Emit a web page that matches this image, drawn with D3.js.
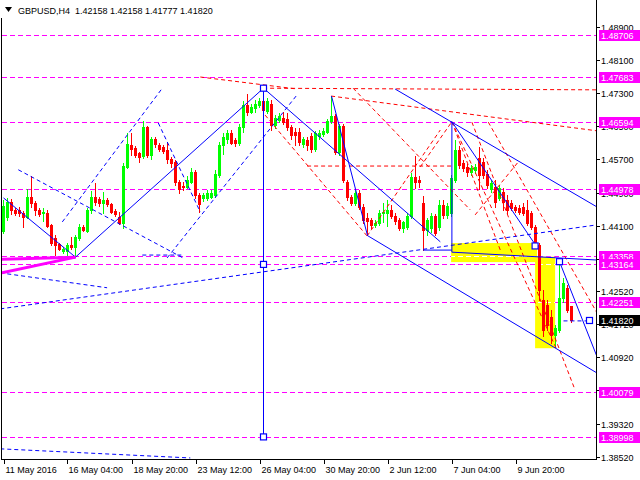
<!DOCTYPE html>
<html><head><meta charset="utf-8">
<script src="https://cdn.jsdelivr.net/npm/d3@7"></script>
<style>
body{margin:0;background:#fff}
svg{display:block}
text{font-family:"Liberation Sans",Arial,sans-serif;font-size:9px}
</style>
</head><body><svg id="c" width="640" height="480"></svg>
<script>
const title = "GBPUSD,H4  1.42158 1.42158 1.41777 1.41820";
const opens = [1.4397,1.4431,1.4467,1.4448,1.4448,1.4441,1.4431,1.4479,1.4465,1.4448,1.4441,1.4441,1.4411,1.4380,1.4366,1.4349,1.4349,1.4363,1.4359,1.4380,1.4407,1.4397,1.4448,1.4479,1.4474,1.4465,1.4472,1.4462,1.4445,1.4431,1.4416,1.4552,1.4605,1.4598,1.4586,1.4578,1.4648,1.4581,1.4619,1.4605,1.4600,1.4593,1.4571,1.4564,1.4515,1.4506,1.4503,1.4516,1.4540,1.4484,1.4477,1.4477,1.4479,1.4484,1.4532,1.4605,1.4619,1.4634,1.4617,1.4610,1.4648,1.4701,1.4684,1.4694,1.4701,1.4711,1.4687,1.4704,1.4653,1.4665,1.4670,1.4668,1.4648,1.4636,1.4636,1.4608,1.4617,1.4627,1.4595,1.4627,1.4631,1.4636,1.4663,1.4675,1.4588,1.4651,1.4516,1.4479,1.4465,1.4489,1.4455,1.4429,1.4424,1.4411,1.4416,1.4441,1.4441,1.4448,1.4433,1.4424,1.4404,1.4407,1.4433,1.4528,1.4520,1.4465,1.4400,1.4404,1.4433,1.4407,1.4460,1.4436,1.4441,1.4520,1.4593,1.4561,1.4552,1.4540,1.4545,1.4574,1.4564,1.4535,1.4499,1.4503,1.4477,1.4491,1.4472,1.4465,1.4455,1.4453,1.4455,1.4448,1.4441,1.4407,1.4363,1.4231,1.4219,1.4189,1.4146,1.4158,1.4235,1.4260,1.42158];
const highs = [1.4472,1.4477,1.4474,1.4453,1.4455,1.4445,1.4499,1.4530,1.4470,1.4453,1.4453,1.4448,1.4414,1.4388,1.4368,1.4359,1.4368,1.4383,1.4388,1.4414,1.4412,1.4453,1.4494,1.4513,1.4479,1.4491,1.4477,1.4465,1.4450,1.4443,1.4562,1.4634,1.4634,1.4602,1.4588,1.4663,1.4651,1.4624,1.4624,1.4610,1.4605,1.4612,1.4576,1.4569,1.4520,1.4516,1.4530,1.4549,1.4545,1.4489,1.4489,1.4496,1.4496,1.4545,1.4612,1.4634,1.4641,1.4641,1.4622,1.4655,1.4711,1.4728,1.4704,1.4714,1.4718,1.4742,1.4718,1.4714,1.4677,1.4682,1.4684,1.4682,1.4653,1.4646,1.4646,1.4624,1.4624,1.4634,1.4639,1.4641,1.4646,1.4668,1.4723,1.4680,1.4655,1.4655,1.4520,1.4484,1.4496,1.4496,1.4462,1.4441,1.4429,1.4424,1.4448,1.4465,1.4472,1.4460,1.4441,1.4429,1.4421,1.4441,1.4537,1.4578,1.4530,1.4482,1.4429,1.4441,1.4438,1.4472,1.4472,1.4465,1.4532,1.4617,1.4602,1.4569,1.4559,1.4557,1.4559,1.4600,1.4574,1.4545,1.4520,1.4520,1.4508,1.4501,1.4484,1.4472,1.4460,1.4460,1.4465,1.4472,1.4445,1.4411,1.4368,1.4255,1.4231,1.4206,1.4170,1.4327,1.4284,1.4267,1.42158];
const lows = [1.4392,1.4424,1.4438,1.4436,1.4434,1.4407,1.4429,1.4455,1.4436,1.4434,1.4421,1.4407,1.4363,1.4339,1.4351,1.4344,1.4339,1.4354,1.4334,1.4375,1.4397,1.4395,1.4441,1.4460,1.4458,1.4441,1.4458,1.4441,1.4434,1.4414,1.4404,1.4549,1.4581,1.4576,1.4563,1.4573,1.4576,1.4571,1.4600,1.4590,1.4586,1.4561,1.4552,1.4508,1.4489,1.4496,1.4501,1.4513,1.4477,1.4443,1.4470,1.4472,1.4477,1.4479,1.4528,1.4583,1.4610,1.4608,1.4603,1.4605,1.4636,1.4677,1.4682,1.4684,1.4697,1.4682,1.4682,1.4641,1.4646,1.4660,1.4655,1.4641,1.4619,1.4605,1.4605,1.4600,1.4593,1.4588,1.4590,1.4619,1.4627,1.4634,1.4658,1.4583,1.4581,1.4515,1.4472,1.4460,1.4460,1.4450,1.4416,1.4388,1.4404,1.4407,1.4411,1.4418,1.4409,1.4429,1.4414,1.4400,1.4395,1.4402,1.4429,1.4501,1.4503,1.4351,1.4388,1.4395,1.4388,1.4400,1.4429,1.4429,1.4434,1.4516,1.4549,1.4542,1.4530,1.4532,1.4537,1.4499,1.4525,1.4501,1.4491,1.4455,1.4472,1.4448,1.4441,1.4448,1.4443,1.4438,1.4436,1.4411,1.4402,1.4356,1.4231,1.4144,1.4158,1.4127,1.4117,1.4153,1.4226,1.4201,1.41777];
const closes = [1.4458,1.4467,1.4448,1.4441,1.4441,1.4431,1.4479,1.4465,1.4448,1.4438,1.4443,1.4409,1.4368,1.4363,1.4354,1.4354,1.4363,1.4359,1.4383,1.4407,1.4400,1.4448,1.4479,1.4467,1.4465,1.4472,1.4462,1.4443,1.4438,1.4416,1.4554,1.4608,1.4595,1.4581,1.4576,1.4648,1.4581,1.4619,1.4607,1.4595,1.4590,1.4571,1.4561,1.4515,1.4499,1.4503,1.4520,1.4540,1.4484,1.4462,1.4484,1.4489,1.4489,1.4535,1.4605,1.4624,1.4634,1.4610,1.4610,1.4648,1.4701,1.4684,1.4697,1.4704,1.4711,1.4689,1.4711,1.4653,1.4670,1.4675,1.4660,1.4648,1.4629,1.4629,1.4612,1.4619,1.4605,1.4595,1.4634,1.4634,1.4639,1.4663,1.4675,1.4588,1.4651,1.4520,1.4479,1.4465,1.4489,1.4455,1.4424,1.4421,1.4411,1.4416,1.4441,1.4443,1.4448,1.4433,1.4421,1.4404,1.4418,1.4433,1.4528,1.4516,1.4516,1.4400,1.4424,1.4433,1.4392,1.4460,1.4436,1.4458,1.4525,1.4593,1.4557,1.4549,1.4540,1.4549,1.4552,1.4532,1.4532,1.4508,1.4513,1.4467,1.4501,1.4467,1.4448,1.4453,1.4448,1.4443,1.4441,1.4416,1.4407,1.4368,1.4255,1.4158,1.4170,1.4146,1.4163,1.4235,1.4272,1.4206,1.41820];

const timeTickIdx = [0,16,32,48,64,80,96,112,128];
const timeTickLabels = ["11 May 2016","16 May 04:00","18 May 20:00","23 May 12:00","26 May 04:00","30 May 20:00","2 Jun 12:00","7 Jun 04:00","9 Jun 20:00"];
// price grid marks; labels fully hidden under level labels in the original are not printed
const priceTicks = [1.48900,1.48100,1.47300,1.46500,1.45700,1.44900,1.44100,1.43300,1.42520,1.41720,1.40920,1.40120,1.39320,1.38520];
const hiddenTickLabels = [1.43300,1.40120];
const levels = [1.48706,1.47683,1.46594,1.44978,1.43358,1.43164,1.42251,1.40079,1.38998];
const lastPrice = 1.41820;

// drawn objects: [barIndex1, price1, barIndex2, price2]
const blueSolid = [[0,1.4477,18,1.4334],[18,1.4334,65,1.4742],[65,1.4742,109.2,1.4371],[82,1.4723,91,1.4386],[91,1.4386,148.4,1.4054],[97.9,1.4740,148.4,1.4455],[112.1,1.4661,133.3,1.4359],[139,1.4323,148.4,1.4093],[104.9,1.4351,112.1,1.4351],[112.1,1.4346,148.4,1.4327],[65,1.4742,65,1.38998],[112.1,1.4661,112.1,1.4346]];
const blueDashed = [[-0.8,1.4296,25.9,1.4260],[-0.8,1.4209,148.4,1.4412],[-0.8,1.3871,46.7,1.3849],[3.7,1.4545,44.9,1.4332],[14.7,1.4419,39.7,1.4742],[38.7,1.4658,49.2,1.4443],[40.9,1.4332,73.4,1.4726],[34.7,1.4339,44.9,1.4339],[140,1.4180,146.5,1.4180]];
const redDashed = [[49.2,1.4769,73.4,1.4740],[64.9,1.4742,148.4,1.4738],[81.9,1.4723,148.4,1.4639],[65.4,1.4677,90.9,1.4385],[87.4,1.4742,116.7,1.4448],[90.9,1.4385,109.2,1.4641],[75.9,1.4554,112,1.4554],[112.1,1.4661,138.35,1.4110],[117.1,1.4660,142.9,1.4013],[104.2,1.4552,112.1,1.4661],[121.2,1.4660,148.4,1.4199],[117.9,1.4436,128.7,1.4564],[112.1,1.4661,124.2,1.4351]];
const magentaThick = [[-0.4,1.4329,18,1.4334],[-0.4,1.4296,18,1.4334]];
const yellowRects = [[111.9,1.4368,133.4,1.4322],[132.9,1.4335,137.9,1.4114]];
const anchorBoxes = [[65,1.4742],[65,1.43164],[65,1.38998],[132.9,1.4361],[139,1.4323],[146.5,1.4181]];

const svg = d3.select("#c");
const L = 2, R = 596, T = 0, B = 459;
const x = d3.scaleLinear().domain([-0.375, 148.125]).range([L, R]);
const y = d3.scaleLinear().domain([1.3852, 1.4955]).range([456.7, 0]);

svg.append("rect").attr("width",640).attr("height",480).attr("fill","#fff");
const defs = svg.append("defs");
defs.append("clipPath").attr("id","plot")
  .append("rect").attr("x",L).attr("y",T).attr("width",R-L).attr("height",B-T);
const yc = defs.append("clipPath").attr("id","yel");
yellowRects.forEach(d=>{
  yc.append("rect").attr("x",x(Math.min(d[0],d[2]))).attr("y",y(Math.max(d[1],d[3])))
    .attr("width",Math.abs(x(d[2])-x(d[0]))).attr("height",Math.abs(y(d[3])-y(d[1])));
});
const g = svg.append("g").attr("clip-path","url(#plot)");

// yellow rectangles (background)
g.selectAll(".yr").data(yellowRects).join("rect")
  .attr("x",d=>x(Math.min(d[0],d[2]))).attr("y",d=>y(Math.max(d[1],d[3])))
  .attr("width",d=>Math.abs(x(d[2])-x(d[0]))).attr("height",d=>Math.abs(y(d[3])-y(d[1])))
  .attr("fill","#ffff00");

// magenta levels
g.selectAll(".lv").data(levels).join("line")
  .attr("x1",L).attr("x2",R).attr("y1",d=>Math.round(y(d))+0.5).attr("y2",d=>Math.round(y(d))+0.5)
  .attr("stroke","#ff00ff").attr("stroke-width",1).attr("stroke-dasharray","5,3");
// levels appear light over the yellow background
g.append("g").attr("clip-path","url(#yel)").selectAll("line").data(levels).join("line")
  .attr("x1",L).attr("x2",R).attr("y1",d=>Math.round(y(d))+0.5).attr("y2",d=>Math.round(y(d))+0.5)
  .attr("stroke","#ffffff").attr("stroke-width",1).attr("stroke-dasharray","5,3");

// candles
const bars = d3.range(opens.length);
const cg = g.append("g");
cg.selectAll(".wick").data(bars).join("line")
  .attr("x1",i=>x(i)).attr("x2",i=>x(i))
  .attr("y1",i=>Math.round(y(highs[i]))).attr("y2",i=>Math.round(y(lows[i]))+1)
  .attr("stroke",i=>closes[i]>=opens[i]?"#00ff00":"#ff0000").attr("stroke-width",1);
cg.selectAll(".body").data(bars).join("rect")
  .attr("x",i=>x(i)-1.5).attr("width",3)
  .attr("y",i=>Math.round(y(Math.max(opens[i],closes[i]))))
  .attr("height",i=>Math.max(1,Math.round(y(Math.min(opens[i],closes[i])))-Math.round(y(Math.max(opens[i],closes[i])))+1))
  .attr("fill",i=>closes[i]>=opens[i]?"#00ff00":"#ff0000");

function seg(sel, data, color, width, dash){
  sel.selectAll(null).data(data).join("line")
    .attr("x1",d=>x(d[0])).attr("y1",d=>y(d[1])).attr("x2",d=>x(d[2])).attr("y2",d=>y(d[3]))
    .attr("stroke",color).attr("stroke-width",width).attr("stroke-dasharray",dash||null);
}
seg(g, redDashed, "#ff0000", 1, "4,3");
seg(g, blueDashed, "#0000ff", 1, "4,3");
seg(g, blueSolid, "#0000ff", 1);
seg(g, magentaThick, "#ff00ff", 3);

g.selectAll(".box").data(anchorBoxes).join("rect")
  .attr("x",d=>x(d[0])-3).attr("y",d=>y(d[1])-3).attr("width",6).attr("height",6)
  .attr("fill","#fff").attr("stroke","#0000ff").attr("stroke-width",1.2);

// frame
svg.append("line").attr("x1",1.5).attr("x2",1.5).attr("y1",18).attr("y2",B+0.5).attr("stroke","#000");
svg.append("line").attr("x1",R+0.5).attr("x2",R+0.5).attr("y1",0).attr("y2",B+0.5).attr("stroke","#000");
svg.append("line").attr("x1",1).attr("x2",R+1).attr("y1",B+0.5).attr("y2",B+0.5).attr("stroke","#000");

// price axis
priceTicks.forEach(p=>{
  const yy = Math.round(y(p))+0.5;
  svg.append("line").attr("x1",R).attr("x2",R+4).attr("y1",yy).attr("y2",yy).attr("stroke","#000");
  if (!hiddenTickLabels.includes(p))
    svg.append("text").attr("x",601).attr("y",yy).attr("dy","0.35em").attr("fill","#000").text(p.toFixed(5));
});
levels.forEach(p=>{
  const yy = Math.round(y(p));
  svg.append("rect").attr("x",599).attr("y",yy-5).attr("width",41).attr("height",11).attr("fill","#ff00ff");
  svg.append("text").attr("x",601).attr("y",yy+0.5).attr("dy","0.35em").attr("fill","#fff").text(p.toFixed(5));
});
{
  const yy = Math.round(y(lastPrice));
  svg.append("rect").attr("x",599).attr("y",yy-5).attr("width",41).attr("height",11).attr("fill","#000");
  svg.append("text").attr("x",601).attr("y",yy+0.5).attr("dy","0.35em").attr("fill","#fff").text(lastPrice.toFixed(5));
}

// time axis
timeTickIdx.forEach((k,j)=>{
  const xx = Math.round(x(k))+0.5;
  svg.append("line").attr("x1",xx).attr("x2",xx).attr("y1",B).attr("y2",B+5).attr("stroke","#000");
  svg.append("text").attr("x",xx+1).attr("y",473).attr("fill","#000").text(timeTickLabels[j]);
});

// title
svg.append("path").attr("d","M5,7 L12,7 L8.5,12 Z").attr("fill","#000");
svg.append("text").attr("x",18).attr("y",14).attr("fill","#000").attr("xml:space","preserve").style("white-space","pre").text(title);
</script>
</body></html>
